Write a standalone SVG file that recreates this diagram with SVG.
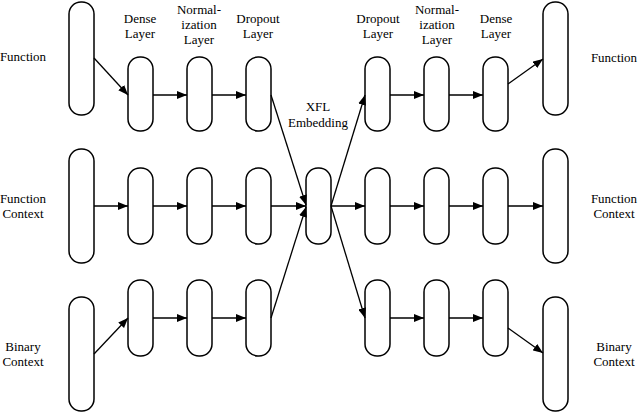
<svg xmlns="http://www.w3.org/2000/svg" width="640" height="412" viewBox="0 0 640 412">
<style>
rect.n{fill:#fff;stroke:#000;stroke-width:1.5}
.t text{font-size:13px;fill:#000;text-anchor:middle}
.c line{stroke:#000;stroke-width:1.3;marker-end:url(#ah)}
</style>
<defs>
<marker id="ah" markerWidth="10" markerHeight="8" refX="10" refY="4" orient="auto" markerUnits="userSpaceOnUse">
<path d="M0,0 L10,4 L0,8 z" fill="#000"/>
</marker>
</defs>
<g id="labels" class="t" font-family="'Liberation Serif', 'Times New Roman', 'DejaVu Serif', serif">
<text x="23" y="61">Function</text>
<text x="23" y="203">Function</text>
<text x="23" y="218">Context</text>
<text x="23" y="351">Binary</text>
<text x="23" y="366">Context</text>
<text x="614" y="62">Function</text>
<text x="614" y="203">Function</text>
<text x="614" y="218">Context</text>
<text x="614" y="351">Binary</text>
<text x="614" y="366">Context</text>
<text x="140" y="23">Dense</text>
<text x="140" y="38">Layer</text>
<text x="199" y="14">Normal-</text>
<text x="199" y="29">ization</text>
<text x="199" y="44">Layer</text>
<text x="258" y="23">Dropout</text>
<text x="258" y="38">Layer</text>
<text x="378" y="23">Dropout</text>
<text x="378" y="38">Layer</text>
<text x="437" y="14">Normal-</text>
<text x="437" y="29">ization</text>
<text x="437" y="44">Layer</text>
<text x="496" y="23">Dense</text>
<text x="496" y="38">Layer</text>
<text x="318" y="111">XFL</text>
<text x="318" y="127">Embedding</text>
</g>
<g id="in-func"><rect class="n" x="69" y="2" width="25" height="113" rx="12"/></g>
<g id="in-ctx"><rect class="n" x="69" y="149" width="25" height="114" rx="12"/></g>
<g id="in-bin"><rect class="n" x="69" y="297" width="25" height="114" rx="12"/></g>
<g id="l-dense-1"><rect class="n" x="128" y="57" width="25" height="74" rx="12"/></g>
<g id="l-norm-1"><rect class="n" x="187" y="57" width="25" height="74" rx="12"/></g>
<g id="l-drop-1"><rect class="n" x="246" y="57" width="25" height="74" rx="12"/></g>
<g id="l-dense-2"><rect class="n" x="128" y="168" width="25" height="76" rx="12"/></g>
<g id="l-norm-2"><rect class="n" x="187" y="168" width="25" height="76" rx="12"/></g>
<g id="l-drop-2"><rect class="n" x="246" y="168" width="25" height="76" rx="12"/></g>
<g id="l-dense-3"><rect class="n" x="128" y="280" width="25" height="76" rx="12"/></g>
<g id="l-norm-3"><rect class="n" x="187" y="280" width="25" height="76" rx="12"/></g>
<g id="l-drop-3"><rect class="n" x="246" y="280" width="25" height="76" rx="12"/></g>
<g id="xfl"><rect class="n" x="306" y="168" width="25" height="76" rx="12"/></g>
<g id="r-drop-1"><rect class="n" x="365" y="57" width="25" height="74" rx="12"/></g>
<g id="r-norm-1"><rect class="n" x="424" y="57" width="25" height="74" rx="12"/></g>
<g id="r-dense-1"><rect class="n" x="483" y="57" width="25" height="74" rx="12"/></g>
<g id="r-drop-2"><rect class="n" x="365" y="168" width="25" height="76" rx="12"/></g>
<g id="r-norm-2"><rect class="n" x="424" y="168" width="25" height="76" rx="12"/></g>
<g id="r-dense-2"><rect class="n" x="483" y="168" width="25" height="76" rx="12"/></g>
<g id="r-drop-3"><rect class="n" x="365" y="280" width="25" height="76" rx="12"/></g>
<g id="r-norm-3"><rect class="n" x="424" y="280" width="25" height="76" rx="12"/></g>
<g id="r-dense-3"><rect class="n" x="483" y="280" width="25" height="76" rx="12"/></g>
<g id="out-func"><rect class="n" x="543" y="2" width="25" height="113" rx="12"/></g>
<g id="out-ctx"><rect class="n" x="543" y="149" width="25" height="114" rx="12"/></g>
<g id="out-bin"><rect class="n" x="543" y="297" width="25" height="114" rx="12"/></g>
<g class="c" id="connectors">
<line x1="94" y1="58" x2="128" y2="95"/>
<line x1="153" y1="95" x2="187" y2="95"/>
<line x1="212" y1="95" x2="246" y2="95"/>
<line x1="94" y1="206" x2="128" y2="206"/>
<line x1="153" y1="206" x2="187" y2="206"/>
<line x1="212" y1="206" x2="246" y2="206"/>
<line x1="271" y1="206" x2="306" y2="206"/>
<line x1="94" y1="354" x2="128" y2="318"/>
<line x1="153" y1="318" x2="187" y2="318"/>
<line x1="212" y1="318" x2="246" y2="318"/>
<line x1="271" y1="95" x2="306" y2="205"/>
<line x1="271" y1="318" x2="306" y2="207"/>
<line x1="331" y1="206" x2="365" y2="95"/>
<line x1="331" y1="206" x2="365" y2="206"/>
<line x1="331" y1="206" x2="365" y2="318"/>
<line x1="390" y1="95" x2="424" y2="95"/>
<line x1="449" y1="95" x2="483" y2="95"/>
<line x1="390" y1="206" x2="424" y2="206"/>
<line x1="449" y1="206" x2="483" y2="206"/>
<line x1="508" y1="206" x2="543" y2="206"/>
<line x1="390" y1="318" x2="424" y2="318"/>
<line x1="449" y1="318" x2="483" y2="318"/>
<line x1="508" y1="84" x2="543" y2="59"/>
<line x1="508" y1="328" x2="543" y2="353"/>
</g>
</svg>
